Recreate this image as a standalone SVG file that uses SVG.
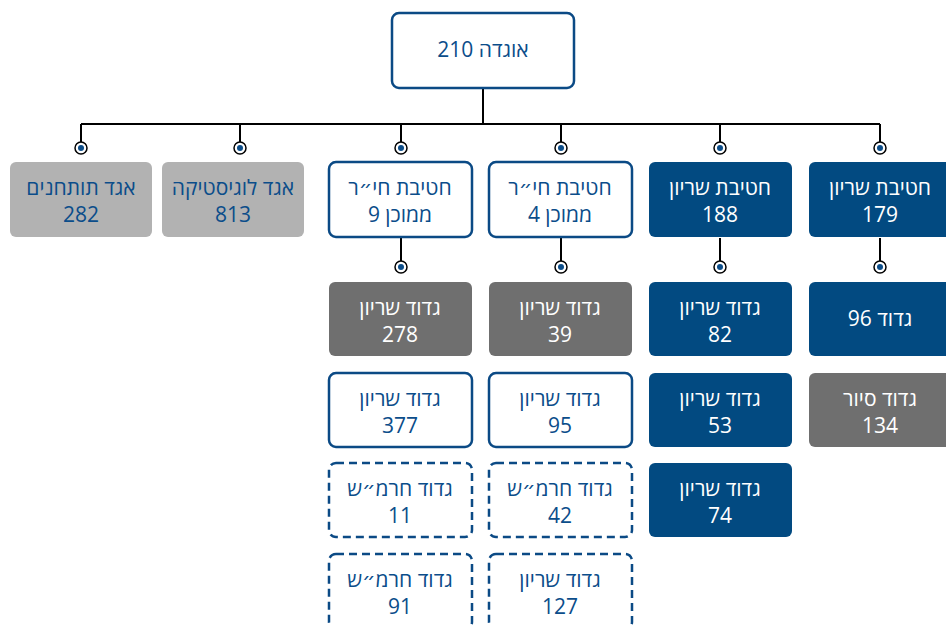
<svg xmlns="http://www.w3.org/2000/svg" width="946" height="626" viewBox="0 0 946 626">
<style>
text{font-family:"Open Sans","Noto Sans","DejaVu Sans",sans-serif;font-size:21px;text-anchor:middle;direction:rtl}
.wb{fill:#fff;stroke:#0b4a85;stroke-width:2.5}
.dash{fill:#fff;stroke:#0b4a85;stroke-width:2.5;stroke-dasharray:8 5}
.db{fill:#024a81}
.lg{fill:#b2b2b2}
.dg{fill:#6f6f6f}
.tb{fill:#0b4d8a}
.tw{fill:#fff}
.ln{stroke:#000;stroke-width:2;fill:none}
.cir{fill:#fff;stroke:#000;stroke-width:1.5}
.dot{fill:#0b4d8a}
</style>
<rect width="946" height="626" fill="#fff"/>
<g id="connectors">
<path class="ln" d="M483 88V124M81 124H880M81 124V142M240 124V142M401 124V142M561 124V142M720 124V142M880 124V142"/>
<path class="ln" d="M401 238V261M561 238V261M720 238V261M880 238V261"/>
<g id="dots">
<circle class="cir" cx="81" cy="148" r="6"/><circle class="dot" cx="81" cy="148" r="3"/>
<circle class="cir" cx="240" cy="148" r="6"/><circle class="dot" cx="240" cy="148" r="3"/>
<circle class="cir" cx="401" cy="148" r="6"/><circle class="dot" cx="401" cy="148" r="3"/>
<circle class="cir" cx="561" cy="148" r="6"/><circle class="dot" cx="561" cy="148" r="3"/>
<circle class="cir" cx="720" cy="148" r="6"/><circle class="dot" cx="720" cy="148" r="3"/>
<circle class="cir" cx="880" cy="148" r="6"/><circle class="dot" cx="880" cy="148" r="3"/>
<circle class="cir" cx="401" cy="267" r="6"/><circle class="dot" cx="401" cy="267" r="3"/>
<circle class="cir" cx="561" cy="267" r="6"/><circle class="dot" cx="561" cy="267" r="3"/>
<circle class="cir" cx="720" cy="267" r="6"/><circle class="dot" cx="720" cy="267" r="3"/>
<circle class="cir" cx="880" cy="267" r="6"/><circle class="dot" cx="880" cy="267" r="3"/>
</g>
</g>
<g id="n-div210"><rect class="wb" x="392" y="13" width="182" height="75" rx="7"/><text class="tb" x="483" y="57">אוגדה 210</text></g>

<g id="n-agad282"><rect class="lg" x="10" y="162" width="142" height="75" rx="6"/><text class="tb" x="81" y="195">אגד תותחנים</text><text class="tb" x="81" y="222">282</text></g>
<g id="n-agad813"><rect class="lg" x="162" y="162" width="142" height="75" rx="6"/><text class="tb" x="233" y="195">אגד לוגיסטיקה</text><text class="tb" x="233" y="222">813</text></g>
<g id="n-hativa9"><rect class="wb" x="329" y="162" width="143" height="75" rx="7"/><text class="tb" x="400" y="195">חטיבת חי״ר</text><text class="tb" x="400" y="222">ממוכן 9</text></g>
<g id="n-hativa4"><rect class="wb" x="489" y="162" width="143" height="75" rx="7"/><text class="tb" x="560" y="195">חטיבת חי״ר</text><text class="tb" x="560" y="222">ממוכן 4</text></g>
<g id="n-hativa188"><rect class="db" x="649" y="162" width="143" height="75" rx="6"/><text class="tw" x="720" y="195">חטיבת שריון</text><text class="tw" x="720" y="222">188</text></g>
<g id="n-hativa179"><rect class="db" x="809" y="162" width="143" height="75" rx="6"/><text class="tw" x="880" y="195">חטיבת שריון</text><text class="tw" x="880" y="222">179</text></g>

<g id="n-g278"><rect class="dg" x="329" y="282" width="143" height="74" rx="6"/><text class="tw" x="400" y="315">גדוד שריון</text><text class="tw" x="400" y="342">278</text></g>
<g id="n-g377"><rect class="wb" x="329" y="373" width="143" height="74" rx="7"/><text class="tb" x="400" y="406">גדוד שריון</text><text class="tb" x="400" y="433">377</text></g>
<g id="n-g11"><rect class="dash" x="329" y="463" width="143" height="74" rx="7"/><text class="tb" x="400" y="496">גדוד חרמ״ש</text><text class="tb" x="400" y="523">11</text></g>
<g id="n-g91"><rect class="dash" x="329" y="554" width="143" height="75" rx="7"/><text class="tb" x="400" y="587">גדוד חרמ״ש</text><text class="tb" x="400" y="614">91</text></g>

<g id="n-g39"><rect class="dg" x="489" y="282" width="143" height="74" rx="6"/><text class="tw" x="560" y="315">גדוד שריון</text><text class="tw" x="560" y="342">39</text></g>
<g id="n-g95"><rect class="wb" x="489" y="373" width="143" height="74" rx="7"/><text class="tb" x="560" y="406">גדוד שריון</text><text class="tb" x="560" y="433">95</text></g>
<g id="n-g42"><rect class="dash" x="489" y="463" width="143" height="74" rx="7"/><text class="tb" x="560" y="496">גדוד חרמ״ש</text><text class="tb" x="560" y="523">42</text></g>
<g id="n-g127"><rect class="dash" x="489" y="554" width="143" height="75" rx="7"/><text class="tb" x="560" y="587">גדוד שריון</text><text class="tb" x="560" y="614">127</text></g>

<g id="n-g82"><rect class="db" x="649" y="282" width="143" height="74" rx="6"/><text class="tw" x="720" y="315">גדוד שריון</text><text class="tw" x="720" y="342">82</text></g>
<g id="n-g53"><rect class="db" x="649" y="373" width="143" height="74" rx="6"/><text class="tw" x="720" y="406">גדוד שריון</text><text class="tw" x="720" y="433">53</text></g>
<g id="n-g74"><rect class="db" x="649" y="463" width="143" height="74" rx="6"/><text class="tw" x="720" y="496">גדוד שריון</text><text class="tw" x="720" y="523">74</text></g>

<g id="n-g96"><rect class="db" x="809" y="282" width="143" height="74" rx="6"/><text class="tw" x="880" y="326">גדוד 96</text></g>
<g id="n-g134"><rect class="dg" x="809" y="373" width="143" height="74" rx="6"/><text class="tw" x="880" y="406">גדוד סיור</text><text class="tw" x="880" y="433">134</text></g>
</svg>
